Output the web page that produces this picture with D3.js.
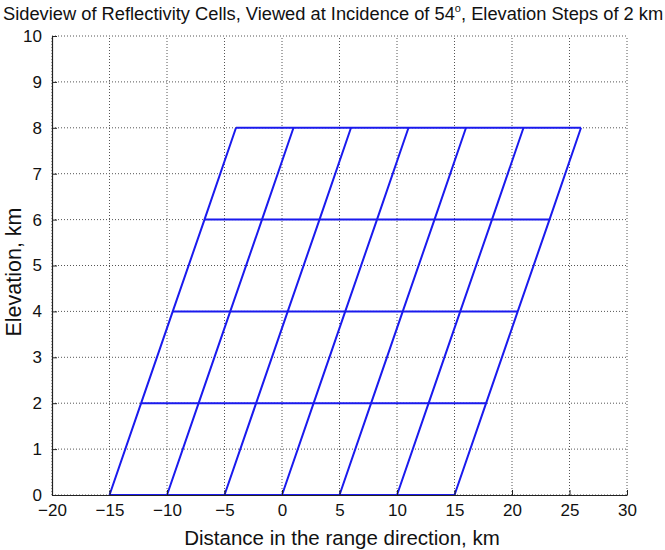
<!DOCTYPE html>
<html><head><meta charset="utf-8">
<script src="https://cdn.jsdelivr.net/npm/d3@7"></script>
<style>body{margin:0;background:#fff;} svg{display:block;font-family:"Liberation Sans",Arial,sans-serif;}</style>
</head><body>
<svg id="c" width="665" height="550"></svg>
<script>
// ground-range positions of cell boundaries at elevation 0 (km)
const groundX = [-15, -10, -5, 0, 5, 10, 15];
// elevation levels (km)
const levels = [0, 2, 4, 6, 8];
// horizontal shift of the cell boundaries at each level (km)
const shifts = [0, 2.75, 5.5, 8.26, 11.0];
const xTicks = [-20, -15, -10, -5, 0, 5, 10, 15, 20, 25, 30];
const yTicks = [0, 1, 2, 3, 4, 5, 6, 7, 8, 9, 10];

const svg = d3.select("#c");
const L = 52, R = 627, T = 36, B = 495;
const x = d3.scaleLinear().domain([-20, 30]).range([L, R]);
const y = d3.scaleLinear().domain([0, 10]).range([B, T]);

// grid
const g = svg.append("g");
xTicks.forEach(t => g.append("line").attr("x1", x(t)).attr("x2", x(t)).attr("y1", B).attr("y2", T)
  .attr("stroke", "#555").attr("stroke-width", 1).attr("stroke-dasharray", "1,2"));
yTicks.forEach(t => g.append("line").attr("x1", L).attr("x2", R).attr("y1", y(t)).attr("y2", y(t))
  .attr("stroke", "#555").attr("stroke-width", 1).attr("stroke-dasharray", "1,2"));

// data lines
const lineGen = d3.line().x(d => x(d[0])).y(d => y(d[1]));
const dl = svg.append("g").attr("fill", "none").attr("stroke", "#1a1aee").attr("stroke-width", 2);
groundX.forEach(gx => {
  const pts = levels.map((lv, i) => [gx + shifts[i], lv]);
  dl.append("path").attr("d", lineGen(pts));
});
levels.forEach((lv, i) => {
  const pts = [[groundX[0] + shifts[i], lv], [groundX[groundX.length - 1] + shifts[i], lv]];
  dl.append("path").attr("d", lineGen(pts));
});

// axes
const xa = svg.append("g").attr("transform", `translate(0,${B})`)
  .call(d3.axisBottom(x).tickValues(xTicks).tickSizeInner(-5).tickSizeOuter(0).tickPadding(9)
    .tickFormat(d => d < 0 ? "\u2212" + Math.abs(d) : d));
const ya = svg.append("g").attr("transform", `translate(${L},0)`)
  .call(d3.axisLeft(y).tickValues(yTicks).tickSizeInner(-5).tickSizeOuter(0).tickPadding(10));
[xa, ya].forEach(a => {
  a.select(".domain").attr("stroke", "#222").attr("stroke-width", 1.2);
  a.selectAll(".tick line").attr("stroke", "#222");
  a.selectAll("text").attr("font-size", 17).attr("fill", "#111")
    .attr("font-family", "'Liberation Sans',Arial,sans-serif");
});

// labels
svg.append("text").attr("x", 3).attr("y", 20).attr("font-size", 18.3).attr("fill", "#111")
  .html('Sideview of Reflectivity Cells, Viewed at Incidence of 54<tspan font-size="11" dy="-8">o</tspan><tspan dy="8">, Elevation Steps of 2 km</tspan>');
svg.append("text").attr("x", 342).attr("y", 545).attr("text-anchor", "middle")
  .attr("font-size", 20.5).attr("fill", "#111").text("Distance in the range direction, km");
svg.append("text").attr("transform", `translate(21,272) rotate(-90)`).attr("text-anchor", "middle")
  .attr("font-size", 21.5).attr("fill", "#111").text("Elevation, km");
</script>
</body></html>
